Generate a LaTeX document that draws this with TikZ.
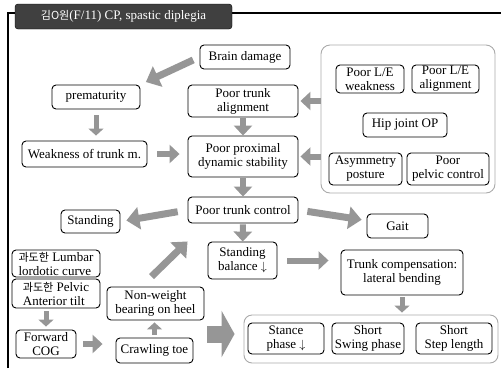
\documentclass[tikz,border=0pt]{standalone}
\usepackage{fontspec}
\setmainfont{Liberation Serif}[Ligatures=TeX]
\newfontfamily\tms{Liberation Serif}
\newfontfamily\kr[Scale=0.85]{Noto Sans CJK KR}
\usepackage{tikz}
\usetikzlibrary{arrows.meta,calc,positioning}
\definecolor{argray}{RGB}{150,150,150}
\definecolor{grpgray}{RGB}{170,170,170}
\definecolor{ttlgray}{RGB}{64,64,64}
\tikzset{bx/.style={draw,line width=0.9pt,rounded corners=4pt,inner sep=1pt,align=center,fill=white}}
\tikzstyle{grp}=[draw=grpgray, rounded corners=9pt, line width=0.9pt, inner sep=0pt]
\tikzset{ar/.style={draw=argray, line width=6pt, -{Triangle[length=10pt,width=18pt]}}}
\tikzstyle{sar}=[ar, line width=5pt, -{Triangle[length=7pt,width=15pt]}]
\tikzstyle{dar}=[ar, line width=7pt, -{Triangle[length=13pt,width=22pt]}]
\tikzstyle{bigar}=[ar, line width=17pt, -{Triangle[length=13pt,width=46pt]}]

\begin{document}
\begin{tikzpicture}[x=1pt, y=-1pt, font=\tms\fontsize{13}{14}\selectfont]
\useasboundingbox (0,0) rectangle (501,368);
% frame and title
\draw[line width=2.5pt] (8,368) -- (8,13) -- (501,13);
\node[fill=ttlgray, draw=black, rounded corners=3pt, text=white, minimum width=217pt, minimum height=25pt, inner sep=0pt] (TT) at (123.5,16.5) {{\kr 김O원}(F/11) CP, spastic diplegia};

\node[bx, minimum width=90pt, minimum height=24pt] (BD) at (245,57) {Brain damage};
\node[bx, minimum width=88pt, minimum height=24pt] (PM) at (96,97) {prematurity};
\node[bx, minimum width=125pt, minimum height=26pt] (WK) at (84.5,154) {Weakness of trunk m.};
\node[bx, minimum width=110pt, minimum height=32pt] (TA) at (243,101) {Poor trunk\\alignment};
\node[bx, minimum width=110pt, minimum height=41pt] (PD) at (243,156.5) {Poor proximal\\dynamic stability};
\node[bx, minimum width=110pt, minimum height=26pt] (TC) at (243,210) {Poor trunk control};
\node[bx, minimum width=59pt, minimum height=23pt] (ST) at (90.5,221.5) {Standing};
\node[bx, minimum width=69pt, minimum height=37pt] (SB) at (242.5,260.5) {Standing\\balance $\downarrow$};
\node[bx, minimum width=61pt, minimum height=24pt] (GT) at (397.5,226) {Gait};

% lower extremity group
\node[grp, minimum width=174pt, minimum height=148pt] (LX) at (408,119) {};
\node[bx, minimum width=68pt, minimum height=28pt] (LE1) at (370,79) {Poor L/E\\weakness};
\node[bx, minimum width=67pt, minimum height=28pt] (LE2) at (445.5,79) {Poor L/E\\alignment};
\node[bx, minimum width=84pt, minimum height=24pt] (HJ) at (405,125) {Hip joint OP};
\node[bx, minimum width=73pt, minimum height=32pt] (AP) at (365.5,169) {Asymmetry\\posture};
\node[bx, minimum width=82pt, minimum height=32pt] (PC) at (448,169) {Poor\\pelvic control};

\node[bx, minimum width=122pt, minimum height=45pt] (CP) at (402,272.5) {Trunk compensation:\\lateral bending};

% gait group
\node[grp, rounded corners=8pt, minimum width=254pt, minimum height=48pt] (GX) at (371,339) {};
\node[bx, minimum width=76pt, minimum height=31pt] (SP) at (286,338.5) {Stance\\phase $\downarrow$};
\node[bx, minimum width=72pt, minimum height=31pt] (SW) at (368,338.5) {Short\\Swing phase};
\node[bx, minimum width=76pt, minimum height=31pt] (SL) at (454,338.5) {Short\\Step length};

% left lower part
\node[bx, align=left, minimum width=88pt, minimum height=27pt] (LL) at (56,263.5) {{\kr 과도한} Lumbar\\lordotic curve};
\node[bx, align=left, minimum width=88pt, minimum height=29pt] (PT) at (56,293.5) {{\kr 과도한} Pelvic\\Anterior tilt};
\node[bx, minimum width=60pt, minimum height=28pt] (FC) at (46,344) {Forward\\COG};
\node[bx, minimum width=97pt, minimum height=33pt] (NW) at (155.5,303.5) {Non-weight\\bearing on heel};
\node[bx, minimum width=77pt, minimum height=25pt] (CT) at (154.5,350.5) {Crawling toe};
\coordinate (BA) at (207,334);

\draw[dar, shorten <=7pt, shorten >=6pt] (BD.west) -- (PM.north east);
\draw[sar, shorten <=6pt, shorten >=5pt] (PM.south) -- (PM.south |- WK.north);
\draw[ar, shorten <=10pt, shorten >=8pt] (WK.east) -- (WK.east -| PD.west);
\draw[ar, shorten <=1pt] (TA) -- (PD);
\draw[ar, shorten >=2pt] (LX.west |- TA) -- (TA.east);
\draw[ar, shorten >=2pt] (LX.west |- PD) -- (PD.east);
\draw[ar, shorten <=1pt] (PD) -- (TC);
\draw[dar, shorten <=10pt, shorten >=6pt] (TC.west) -- (ST.east);
\draw[dar, shorten <=9pt, shorten >=5pt] (TC.east) -- (GT.170);
\draw[ar, shorten <=1pt] (TC) -- (SB);
\draw[dar] ($(NW.north)+(-4,-10)$) -- ($(TC.south west)+(0,18)$);
\draw[ar, shorten <=10pt, shorten >=12pt] (SB.east) -- (SB.east -| CP.west);
\draw[sar, shorten <=2pt, shorten >=2pt] (CP.south) -- (CP.south |- GX.north);
\draw[sar, shorten <=3pt, shorten >=3pt] (FC.north |- PT.south) -- (FC.north);
\draw[ar, shorten <=7pt, shorten >=13pt] (FC.east) -- (FC.east -| CT.west);
\draw[sar, shorten <=3pt, shorten >=2pt] (CT.north) -- (CT.north |- NW.south);
\draw[bigar, shorten >=9pt] (BA) -- (BA -| GX.west);
\end{tikzpicture}
\end{document}
